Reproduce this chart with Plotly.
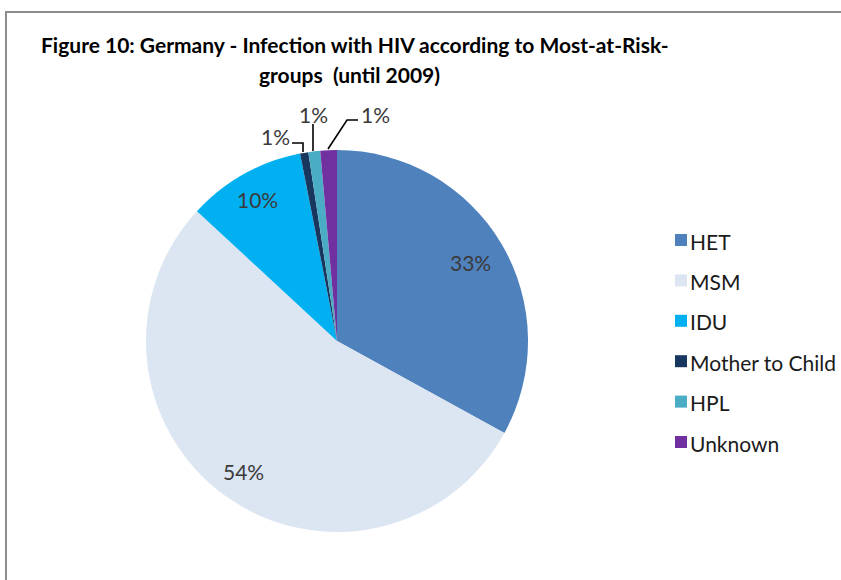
import math
import plotly.graph_objects as go

# Data
groups = ["HET", "MSM", "IDU", "Mother to Child", "HPL", "Unknown"]
shares = [33.0, 53.9, 10.0, 0.7, 1.0, 1.4]
colors = ["#4F81BD", "#DCE6F2", "#00B0F0", "#17375E", "#4BACC6", "#7030A0"]
title_lines = ["Figure 10: Germany - Infection with HIV according to Most-at-Risk-",
               "groups  (until 2009)"]

W, H = 841, 580
FONT = "Lato"


def px(x):
    return x / W


def py(y):
    return 1 - y / H


# pie geometry in pixels
cx, cy, R = 337, 341, 191

fig = go.Figure(go.Pie(
    labels=groups,
    values=shares,
    sort=False,
    direction="clockwise",
    rotation=0,
    marker=dict(colors=colors, line=dict(width=0)),
    textinfo="none",
    hoverinfo="label+percent",
    showlegend=False,
    domain=dict(x=[px(cx - R), px(cx + R)], y=[py(cy + R), py(cy - R)]),
))

annotations = []
shapes = []

# chart frame (left and top edges)
frame = [(6, H + 10), (6, 12), (W + 10, 12)]
shapes.append(dict(type="path", xref="paper", yref="paper",
                   path="M " + " L ".join(f"{px(x)},{py(y)}" for x, y in frame),
                   line=dict(color="#8C8C8C", width=2)))

# title
for line, (tx, ty) in zip(title_lines, [(355, 44), (349, 75)]):
    annotations.append(dict(text="<b>" + line + "</b>", x=px(tx), y=py(ty),
                            xref="paper", yref="paper", showarrow=False,
                            xanchor="center", yanchor="middle",
                            font=dict(family=FONT, size=21, color="#000000")))

# percentage labels
total = sum(shares)
label_radius = [0.81, 0.84, 0.85]
small_pos = [(275, 137), (313, 114), (375, 114)]
cum = 0.0
for i, v in enumerate(shares):
    start = cum / total * 360
    cum += v
    end = cum / total * 360
    txt = f"{round(v / total * 100)}%"
    if i < 3:
        mid = math.radians((start + end) / 2)
        r = label_radius[i] * R
        lx = cx + r * math.sin(mid)
        ly = cy - r * math.cos(mid)
    else:
        lx, ly = small_pos[i - 3]
    annotations.append(dict(text=txt, x=px(lx), y=py(ly), xref="paper", yref="paper",
                            showarrow=False, xanchor="center", yanchor="middle",
                            font=dict(family=FONT, size=21, color="#3A3A3A")))

# leader lines for the thin slices
leaders = [
    [(292, 143), (303, 143), (303, 152)],
    [(313, 124), (313, 151)],
    [(358, 120), (347, 120), (328, 149)],
]
for pts in leaders:
    path = "M " + " L ".join(f"{px(x)},{py(y)}" for x, y in pts)
    shapes.append(dict(type="path", xref="paper", yref="paper", path=path,
                       line=dict(color="#000000", width=1.6)))

# legend
leg_x, leg_y0, leg_step, sw = 675, 240, 40.4, 12
for i, (g, c) in enumerate(zip(groups, colors)):
    yy = leg_y0 + i * leg_step
    shapes.append(dict(type="rect", xref="paper", yref="paper",
                       x0=px(leg_x), x1=px(leg_x + sw),
                       y0=py(yy + sw / 2), y1=py(yy - sw / 2),
                       fillcolor=c, line=dict(width=0)))
    annotations.append(dict(text=g, x=px(leg_x + sw + 1), y=py(yy + 1),
                            xref="paper", yref="paper", showarrow=False,
                            xanchor="left", yanchor="middle",
                            font=dict(family=FONT, size=21, color="#1A1A1A")))

fig.update_layout(
    width=W, height=H,
    margin=dict(l=0, r=0, t=0, b=0),
    paper_bgcolor="#FFFFFF",
    plot_bgcolor="#FFFFFF",
    annotations=annotations,
    shapes=shapes,
)

fig.write_html("out.html")
